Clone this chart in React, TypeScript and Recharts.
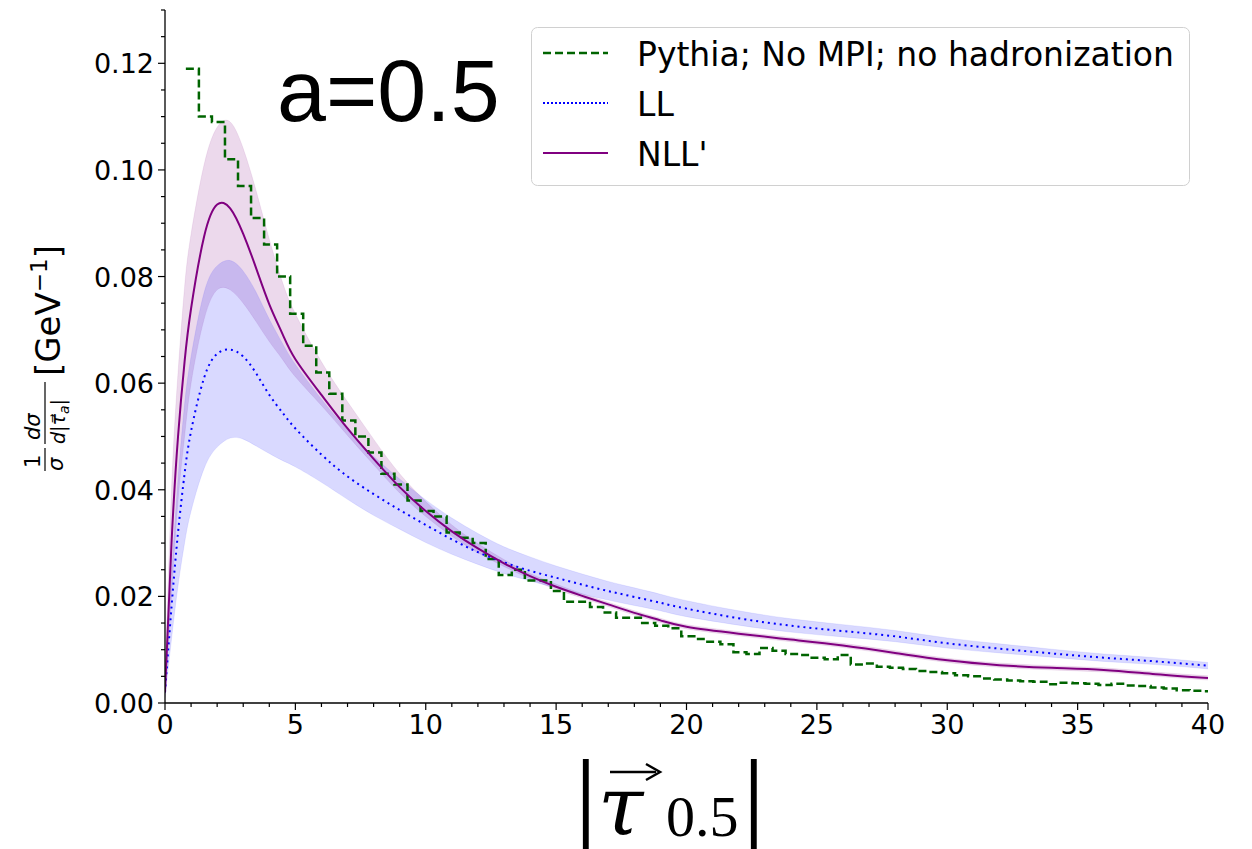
import React from 'react';
import { ComposedChart, Line, Area, XAxis, YAxis, Legend } from 'recharts';

// x positions of the resummed curves
const xGrid = [0, 0.25, 0.5, 0.75, 1, 1.5, 2, 2.5, 3, 3.5, 4, 4.5, 5, 6, 7, 8, 9, 10, 11, 12, 13, 14, 15, 16, 17, 18, 19, 20, 22, 24, 26, 28, 30, 32, 34, 36, 38, 40];

const nllCentral = [0.002, 0.03, 0.05, 0.064, 0.074, 0.0875, 0.0935, 0.0928, 0.088, 0.0815, 0.0748, 0.0693, 0.0645, 0.0578, 0.0515, 0.0458, 0.0405, 0.036, 0.0322, 0.029, 0.0262, 0.0238, 0.0218, 0.0201, 0.0185, 0.0169, 0.0155, 0.0143, 0.013, 0.0119, 0.0108, 0.0094, 0.008, 0.0071, 0.0066, 0.0062, 0.0054, 0.0047];
const nllLow = [0.001, 0.02, 0.038, 0.05, 0.06, 0.072, 0.0775, 0.0775, 0.075, 0.0715, 0.0678, 0.0645, 0.0612, 0.0558, 0.0502, 0.0447, 0.0394, 0.035, 0.0313, 0.0282, 0.0256, 0.0233, 0.0213, 0.0197, 0.0181, 0.0165, 0.0151, 0.0139, 0.0126, 0.0115, 0.0104, 0.009, 0.0076, 0.0067, 0.0062, 0.0058, 0.005, 0.0043];
const nllHigh = [0.004, 0.04, 0.062, 0.078, 0.088, 0.101, 0.108, 0.109, 0.104, 0.096, 0.087, 0.079, 0.073, 0.064, 0.0565, 0.0495, 0.043, 0.0378, 0.0334, 0.0299, 0.0269, 0.0243, 0.0223, 0.0205, 0.0189, 0.0173, 0.0159, 0.0147, 0.0134, 0.0123, 0.0112, 0.0098, 0.0084, 0.0075, 0.007, 0.0066, 0.0058, 0.0051];

const llCentral = [0.002, 0.018, 0.032, 0.043, 0.051, 0.061, 0.0655, 0.0663, 0.065, 0.0618, 0.0578, 0.0545, 0.0515, 0.0466, 0.0425, 0.0392, 0.0362, 0.0334, 0.0307, 0.0283, 0.0264, 0.0248, 0.0235, 0.0222, 0.021, 0.0199, 0.0188, 0.0177, 0.0159, 0.0145, 0.0135, 0.0125, 0.0112, 0.0102, 0.0093, 0.0085, 0.0078, 0.007];
const llLow = [0.001, 0.012, 0.022, 0.03, 0.036, 0.044, 0.048, 0.0497, 0.0495, 0.0482, 0.0468, 0.0455, 0.0443, 0.0414, 0.0382, 0.0352, 0.0326, 0.0301, 0.0279, 0.026, 0.0243, 0.0229, 0.0216, 0.0204, 0.0193, 0.0183, 0.0173, 0.0162, 0.0146, 0.0133, 0.0124, 0.0115, 0.0103, 0.0094, 0.0086, 0.0078, 0.0072, 0.0064];
const llHigh = [0.003, 0.024, 0.042, 0.056, 0.065, 0.077, 0.082, 0.083, 0.081, 0.077, 0.072, 0.0675, 0.0635, 0.057, 0.0512, 0.0463, 0.042, 0.0381, 0.0347, 0.0318, 0.0293, 0.0274, 0.0257, 0.0242, 0.0228, 0.0216, 0.0204, 0.0192, 0.0173, 0.0158, 0.0147, 0.0136, 0.0122, 0.0111, 0.0101, 0.0092, 0.0085, 0.0076];

// Pythia histogram, bins of 0.5 starting at 0.8
const histStart = 0.8;
const histWidth = 0.5;
const pythiaHist = [
  0.119, 0.110, 0.109, 0.102, 0.097, 0.091, 0.086, 0.080, 0.073, 0.067,
  0.062, 0.058, 0.053, 0.050, 0.047, 0.043, 0.041, 0.038, 0.036, 0.035,
  0.032, 0.031, 0.030, 0.027, 0.024, 0.025, 0.023, 0.023, 0.021, 0.019,
  0.019, 0.018, 0.017, 0.016, 0.016, 0.015, 0.0145, 0.014, 0.0125, 0.012,
  0.0115, 0.011, 0.0095, 0.0092, 0.0103, 0.0098, 0.0092, 0.009, 0.0085, 0.0082,
  0.009, 0.0072, 0.0074, 0.0068, 0.0066, 0.0064, 0.006, 0.0058, 0.0056, 0.0052,
  0.005, 0.0046, 0.0044, 0.0042, 0.0041, 0.004, 0.0035, 0.0038, 0.0037, 0.0036,
  0.0034, 0.0036, 0.0033, 0.0032, 0.0029, 0.0027, 0.0024, 0.0023, 0.0022,
];

const xTicks = [0, 5, 10, 15, 20, 25, 30, 35, 40];
const xMinorTicks = Array.from({ length: 41 }, (_, i) => i);
const yTicks = [0, 0.02, 0.04, 0.06, 0.08, 0.1, 0.12];
const yMinorTicks = Array.from({ length: 27 }, (_, i) => i * 0.005);

const legendItems = [
  { label: 'Pythia; No MPI; no hadronization', color: '#006400', dash: '8 4', width: 2.5 },
  { label: 'LL', color: '#0000ff', dash: '2 2', width: 2 },
  { label: "NLL'", color: '#800080', dash: undefined, width: 2 },
];

const curveData = xGrid.map((x, i) => ({
  x,
  nll: nllCentral[i],
  nllBand: [nllLow[i], nllHigh[i]],
  ll: llCentral[i],
  llBand: [llLow[i], llHigh[i]],
}));

const histData = pythiaHist
  .map((v, i) => ({ x: histStart + i * histWidth, pythia: v }))
  .concat([{ x: 40, pythia: pythiaHist[pythiaHist.length - 1] }]);

const tickFont = '"DejaVu Sans", sans-serif';

const XTick = (props: any) => {
  const { x, y, payload } = props;
  const major = xTicks.includes(payload.value);
  return (
    <g>
      <line x1={x} x2={x} y1={y} y2={y + (major ? 7 : 4)} stroke="#000" strokeWidth={1.2} />
      {major && (
        <text x={x} y={y + 31} textAnchor="middle" fontSize={27} fontFamily={tickFont} fill="#000">
          {payload.value}
        </text>
      )}
    </g>
  );
};

const YTick = (props: any) => {
  const { x, y, payload } = props;
  const major = yTicks.some((t) => Math.abs(t - payload.value) < 1e-9);
  return (
    <g>
      <line x1={x} x2={x - (major ? 7 : 4)} y1={y} y2={y} stroke="#000" strokeWidth={1.2} />
      {major && (
        <text x={x - 11} y={y + 10} textAnchor="end" fontSize={27} fontFamily={tickFont} fill="#000">
          {payload.value.toFixed(2)}
        </text>
      )}
    </g>
  );
};

const renderLegend = () => (
  <svg width={659} height={159} style={{ display: 'block' }}>
    <rect x={0.5} y={0.5} width={658} height={158} rx={6} fill="#fff" fillOpacity={0.85} stroke="#d0d0d0" />
    {legendItems.map((item, i) => (
      <g key={item.label}>
        <line
          x1={12}
          x2={77}
          y1={26 + i * 50}
          y2={26 + i * 50}
          stroke={item.color}
          strokeWidth={item.width}
          strokeDasharray={item.dash}
        />
        <text x={106} y={39 + i * 50} fontSize={33} fontFamily={tickFont} fill="#000">
          {item.label}
        </text>
      </g>
    ))}
  </svg>
);

export default function App() {
  return (
    <div style={{ position: 'absolute', left: 0, top: 0, width: 1252, height: 849, background: '#fff' }}>
      <ComposedChart
        width={1252}
        height={849}
        data={curveData}
        margin={{ top: 10, right: 44, bottom: 106, left: 85 }}
      >
        <XAxis
          dataKey="x"
          type="number"
          domain={[0, 40]}
          allowDataOverflow
          ticks={xMinorTicks}
          interval={0}
          tickSize={0}
          tickMargin={0}
          tick={<XTick />}
          height={40}
          stroke="#000"
          strokeWidth={1.3}
        />
        <XAxis
          xAxisId="top"
          orientation="top"
          type="number"
          domain={[0, 40]}
          height={0}
          tick={false}
          tickLine={false}
          stroke="#000"
          strokeWidth={1.3}
        />
        <YAxis
          type="number"
          domain={[0, 0.13]}
          allowDataOverflow
          ticks={yMinorTicks}
          interval={0}
          tickSize={0}
          tickMargin={0}
          tick={<YTick />}
          width={80}
          stroke="#000"
          strokeWidth={1.3}
        />
        <YAxis
          yAxisId="right"
          orientation="right"
          type="number"
          domain={[0, 0.13]}
          width={0}
          tick={false}
          tickLine={false}
          stroke="#000"
          strokeWidth={1.3}
        />
        <Area
          dataKey="nllBand"
          type="natural"
          fill="#800080"
          fillOpacity={0.15}
          stroke="#800080"
          strokeOpacity={0.08}
          isAnimationActive={false}
        />
        <Area
          dataKey="llBand"
          type="natural"
          fill="#0000ff"
          fillOpacity={0.15}
          stroke="#0000ff"
          strokeOpacity={0.08}
          isAnimationActive={false}
        />
        <Line
          data={histData}
          dataKey="pythia"
          type="stepAfter"
          stroke="#006400"
          strokeWidth={2.5}
          strokeDasharray="8 4"
          dot={false}
          isAnimationActive={false}
        />
        <Line
          dataKey="ll"
          type="natural"
          stroke="#0000ff"
          strokeWidth={2}
          strokeDasharray="2 4"
          dot={false}
          isAnimationActive={false}
        />
        <Line
          dataKey="nll"
          type="natural"
          stroke="#800080"
          strokeWidth={2}
          dot={false}
          isAnimationActive={false}
        />
        <Legend
          layout="horizontal"
          align="center"
          verticalAlign="middle"
          content={renderLegend}
          wrapperStyle={{ position: 'absolute', left: 531, top: 27, width: 659, height: 159 }}
        />
      </ComposedChart>

      <svg
        width={1252}
        height={849}
        style={{ position: 'absolute', left: 0, top: 0, pointerEvents: 'none' }}
      >
        <text x={277} y={121} fontSize={88} fontFamily='"Liberation Sans", Arial, sans-serif' fill="#000">
          a=0.5
        </text>

        {/* y axis label */}
        <g fontFamily={tickFont} fill="#000">
          <text x={40} y={468} fontSize={21} transform="rotate(-90 40 468)">1</text>
          <line x1={45} x2={45} y1={448} y2={471} stroke="#000" strokeWidth={1.2} />
          <text x={63} y={471} fontSize={21} fontStyle="italic" transform="rotate(-90 63 471)">σ</text>
          <text x={40} y={440} fontSize={21} fontStyle="italic" transform="rotate(-90 40 440)">dσ</text>
          <line x1={45} x2={45} y1={382} y2={444} stroke="#000" strokeWidth={1.2} />
          <text x={65} y={444} fontSize={19} fontStyle="italic" transform="rotate(-90 65 444)">
            d|τ⃗<tspan fontSize={14} dy={4}>a</tspan><tspan dy={-4}>|</tspan>
          </text>
          <text x={60} y={376} fontSize={34} transform="rotate(-90 60 376)">
            [GeV<tspan fontSize={23} dy={-13}>−1</tspan><tspan dy={13}>]</tspan>
          </text>
        </g>

        {/* x axis label */}
        <g fill="#000" fontFamily='"Liberation Serif", "DejaVu Serif", serif'>
          <text x={574} y={842} fontSize={118}>|</text>
          <text x={598} y={835} fontSize={82} fontStyle="italic" fontFamily='"DejaVu Serif", serif'>
            τ
          </text>
          <line x1={610} x2={656} y1={772} y2={772} stroke="#000" strokeWidth={2.5} />
          <path d="M 646 764 L 660 772 L 646 780" fill="none" stroke="#000" strokeWidth={2.5} />
          <text x={666} y={836} fontSize={58}>0.5</text>
          <text x={742} y={842} fontSize={118}>|</text>
        </g>
      </svg>
    </div>
  );
}
